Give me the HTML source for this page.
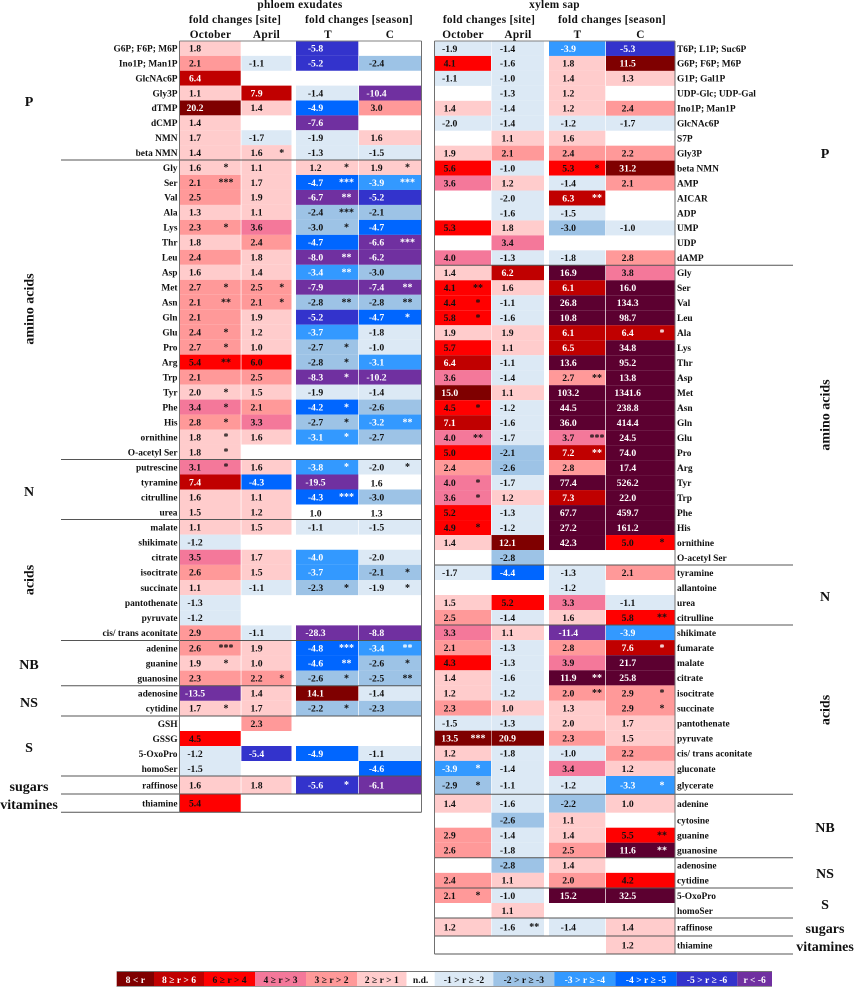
<!DOCTYPE html>
<html lang="en">
<head>
<meta charset="utf-8">
<title>Metabolite fold changes in phloem exudates and xylem sap</title>
<style>
html,body{margin:0;padding:0;background:#fff;}
svg{display:block;font-family:"Liberation Serif",serif;font-weight:bold;filter:blur(0.3px);}
</style>
</head>
<body>
<svg id="chart" width="854" height="987" viewBox="0 0 854 987" xmlns="http://www.w3.org/2000/svg"></svg>
<script>
/* ---------- phloem exudates data ---------- */
const phloemRows = ["G6P; F6P; M6P","Ino1P; Man1P","GlcNAc6P","Gly3P","dTMP","dCMP","NMN","beta NMN","Gly","Ser","Val","Ala","Lys","Thr","Leu","Asp","Met","Asn","Gln","Glu","Pro","Arg","Trp","Tyr","Phe","His","ornithine","O-acetyl Ser","putrescine","tyramine","citrulline","urea","malate","shikimate","citrate","isocitrate","succinate","pantothenate","pyruvate","cis/ trans aconitate","adenine","guanine","guanosine","adenosine","cytidine","GSH","GSSG","5-OxoPro","homoSer","raffinose","thiamine"];
const phloemOct = [1.8,2.1,6.4,1.1,20.2,1.4,1.7,1.4,1.6,2.1,2.5,1.3,2.3,1.8,2.4,1.6,2.7,2.1,2.1,2.4,2.7,5.4,2.1,2.0,3.4,2.8,1.8,1.8,3.1,7.4,1.6,1.5,1.1,-1.2,3.5,2.6,1.1,-1.3,-1.2,2.9,2.6,1.9,2.3,-13.5,1.7,null,4.5,-1.2,-1.5,1.6,5.4];
const phloemApr = [null,-1.1,null,7.9,1.4,null,-1.7,1.6,1.1,1.7,1.9,1.1,3.6,2.4,1.8,1.4,2.5,2.1,1.9,1.2,1.0,6.0,2.5,1.5,2.1,3.3,1.6,null,1.6,-4.3,1.1,1.2,1.5,null,1.7,1.5,-1.1,null,null,-1.1,1.9,1.0,2.2,1.4,1.7,2.3,null,-5.4,null,1.8,null];
const phloemT = [-5.8,-5.2,null,-1.4,-4.9,-7.6,-1.9,-1.3,1.2,-4.7,-6.7,-2.4,-3.0,-4.7,-8.0,-3.4,-7.9,-2.8,-5.2,-3.7,-2.7,-2.8,-8.3,-1.9,-4.2,-2.7,-3.1,null,-3.8,-19.5,-4.3,1.0,-1.1,null,-4.0,-3.7,-2.3,null,null,-28.3,-4.8,-4.6,-2.6,14.1,-2.2,null,null,-4.9,null,-5.6,null];
const phloemC = [null,-2.4,null,-10.4,3.0,null,1.6,-1.5,1.9,-3.9,-5.2,-2.1,-4.7,-6.6,-6.2,-3.0,-7.4,-2.8,-4.7,-1.8,-1.0,-3.1,-10.2,-1.4,-2.6,-3.2,-2.7,null,-2.0,1.6,-3.0,1.3,-1.5,null,-2.0,-2.1,-1.9,null,null,-8.8,-3.4,-2.6,-2.5,-1.4,-2.3,null,null,-1.1,-4.6,-6.1,null];
const phloemOctSig = [0,0,0,0,0,0,0,0,1,3,0,0,1,0,0,0,1,2,0,1,1,2,0,1,1,1,1,1,1,0,0,0,0,0,0,0,0,0,0,0,3,1,0,0,1,0,0,0,0,0,0];
const phloemAprSig = [0,0,0,0,0,0,0,1,0,0,0,0,0,0,0,0,1,1,0,0,0,0,0,0,0,0,0,0,0,0,0,0,0,0,0,0,0,0,0,0,0,0,1,0,0,0,0,0,0,0,0];
const phloemTSig = [0,0,0,0,0,0,0,0,1,3,2,3,1,0,2,2,0,2,0,0,1,1,1,0,1,1,1,0,1,0,3,0,0,0,0,0,1,0,0,0,3,2,1,0,1,0,0,0,0,1,0];
const phloemCSig = [0,0,0,0,0,0,0,0,1,3,0,0,0,3,0,0,2,2,1,0,0,0,0,0,0,2,0,0,1,0,0,0,0,0,0,1,1,0,0,0,2,1,2,0,0,0,0,0,0,0,0];
const phloemNoFill = ["tyramine|C","urea|T","urea|C"];

/* ---------- xylem sap data ---------- */
const xylemRows = ["T6P; L1P; Suc6P","G6P; F6P; M6P","G1P; Gal1P","UDP-Glc; UDP-Gal","Ino1P; Man1P","GlcNAc6P","S7P","Gly3P","beta NMN","AMP","AICAR","ADP","UMP","UDP","dAMP","Gly","Ser","Val","Leu","Ala","Lys","Thr","Asp","Met","Asn","Gln","Glu","Pro","Arg","Tyr","Trp","Phe","His","ornithine","O-acetyl Ser","tyramine","allantoine","urea","citrulline","shikimate","fumarate","malate","citrate","isocitrate","succinate","pantothenate","pyruvate","cis/ trans aconitate","gluconate","glycerate","adenine","cytosine","guanine","guanosine","adenosine","cytidine","5-OxoPro","homoSer","raffinose","thiamine"];
const xylemOct = [-1.9,4.1,-1.1,null,1.4,-2.0,null,1.9,5.6,3.6,null,null,5.3,null,4.0,1.4,4.1,4.4,5.8,1.9,5.7,6.4,3.6,15.0,4.5,7.1,4.0,5.0,2.4,4.0,3.6,5.2,4.9,1.4,null,-1.7,null,1.5,2.5,3.3,2.1,4.3,1.4,1.2,2.3,-1.5,13.5,1.2,-3.9,-2.9,1.4,null,2.9,2.6,null,2.4,2.1,null,1.2,null];
const xylemApr = [-1.4,-1.6,-1.0,-1.3,-1.4,-1.4,1.1,2.1,-1.0,1.2,-2.0,-1.6,1.8,3.4,-1.3,6.2,1.6,-1.1,-1.6,1.9,1.1,-1.1,-1.4,1.1,-1.2,-1.6,-1.7,-2.1,-2.6,-1.7,1.2,-1.3,-1.2,12.1,-2.8,-4.4,null,5.2,-1.4,1.1,-1.3,-1.3,-1.6,-1.2,1.0,-1.3,20.9,-1.8,-1.4,-1.1,-1.6,-2.6,-1.4,-1.8,-2.8,1.1,-1.0,1.1,-1.6,null];
const xylemT = [-3.9,1.8,1.4,1.2,1.2,-1.2,1.6,2.4,5.3,-1.4,6.3,-1.5,-3.0,null,-1.8,16.9,6.1,26.8,10.8,6.1,6.5,13.6,2.7,103.2,44.5,36.0,3.7,7.2,2.8,77.4,7.3,67.7,27.2,42.3,null,-1.3,-1.2,3.3,1.6,-11.4,2.8,3.9,11.9,2.04,1.3,2.0,2.3,-1.0,3.4,-1.2,-2.2,1.1,1.4,2.5,1.4,2.04,15.2,null,-1.4,null];
const xylemC = [-5.3,11.5,1.3,null,2.4,-1.7,null,2.2,31.2,2.1,null,null,-1.0,null,2.8,3.8,16.0,134.3,98.7,6.4,34.8,95.2,13.8,1341.6,238.8,414.4,24.5,74.0,17.4,526.2,22.0,459.7,161.2,5.0,null,2.1,null,-1.1,5.8,-3.9,7.6,21.7,25.8,2.9,2.9,1.7,1.5,2.2,1.2,-3.3,1.0,null,5.5,11.6,null,4.2,32.5,null,1.4,1.2];
const xylemOctSig = [0,0,0,0,0,0,0,0,0,0,0,0,0,0,0,0,2,1,1,0,0,0,0,0,1,0,2,0,0,1,1,0,1,0,0,0,0,0,0,0,0,0,0,0,0,0,3,0,1,1,0,0,0,0,0,0,1,0,0,0];
const xylemAprSig = [0,0,0,0,0,0,0,0,0,0,0,0,0,0,0,0,0,0,0,0,0,0,0,0,0,0,0,0,0,0,0,0,0,0,0,0,0,0,0,0,0,0,0,0,0,0,0,0,0,0,0,0,0,0,0,0,0,0,2,0];
const xylemTSig = [0,0,0,0,0,0,0,0,1,0,2,0,0,0,0,0,0,0,0,0,0,0,2,0,0,0,3,2,0,0,0,0,0,0,0,0,0,0,0,0,0,0,2,2,0,0,0,0,0,0,0,0,0,0,0,0,0,0,0,0];
const xylemCSig = [0,0,0,0,0,0,0,0,0,0,0,0,0,0,0,0,0,0,0,1,0,0,0,0,0,0,0,0,0,0,0,0,0,1,0,0,0,0,2,0,1,0,0,1,1,0,0,0,0,1,0,0,2,2,0,0,0,0,0,0];
const xylemMaroonRows = ["G6P; F6P; M6P","beta NMN"];

/* ---------- legend ---------- */
const legendLabels = ["8 < r","8 ≥ r > 6","6 ≥ r > 4","4 ≥ r > 3","3 ≥ r > 2","2 ≥ r > 1","n.d.","-1 > r ≥ -2","-2 > r ≥ -3","-3 > r ≥ -4","-4 > r ≥ -5","-5 > r ≥ -6","r < -6"];
const legendColors = ["#7f0000","#c00000","#ff0000","#f4789a","#ff9999","#ffcccc","#ffffff","#dce9f5","#9dc3e6","#3399ff","#0066ff","#3333cc","#7030a0"];
const legendInk = ["#fff","#fff","#111","#111","#111","#111","#111","#111","#111","#fff","#fff","#fff","#fff"];
const legendEdges = [116.7,154,204,255,306,357,406.5,434.7,493.3,554.3,615.3,676.7,737.3,772];

/* ---------- layout ---------- */
const NS = "http://www.w3.org/2000/svg";
const svg = document.getElementById("chart");
const WINE = "#5c0030";
const RULE = "#555555";

function binIndex(v){
  if(v>8) return 0;
  if(v>6) return 1;
  if(v>4) return 2;
  if(v>3) return 3;
  if(v>2) return 4;
  if(v>=0) return 5;
  if(v>=-2) return 7;
  if(v>=-3) return 8;
  if(v>=-4) return 9;
  if(v>=-5) return 10;
  if(v>=-6) return 11;
  return 12;
}
function addText(txt,x,y,size,anchor,fill){
  const t=document.createElementNS(NS,"text");
  t.setAttribute("x",x);
  t.setAttribute("y",y);
  t.setAttribute("font-size",size);
  t.setAttribute("text-anchor",anchor);
  t.setAttribute("fill",fill||"#111");
  t.textContent=txt;
  svg.appendChild(t);
  return t;
}
function addRect(x,y,w,h,fill){
  const r=document.createElementNS(NS,"rect");
  r.setAttribute("x",x);
  r.setAttribute("y",y);
  r.setAttribute("width",w);
  r.setAttribute("height",h);
  r.setAttribute("fill",fill);
  svg.appendChild(r);
  return r;
}
function addLine(x1,y1,x2,y2,color,w){
  const l=document.createElementNS(NS,"line");
  l.setAttribute("x1",x1);
  l.setAttribute("y1",y1);
  l.setAttribute("x2",x2);
  l.setAttribute("y2",y2);
  l.setAttribute("stroke",color);
  l.setAttribute("stroke-width",w);
  svg.appendChild(l);
  return l;
}
/* bands: y-range, number of rows */
function rowsFromBands(bands){
  const out=[];
  bands.forEach(b=>{
    const h=(b[1]-b[0])/b[2];
    for(let i=0;i<b[2];i++) out.push({y:b[0]+i*h,h:h});
  });
  return out;
}
function drawPanel(cfg){
  const rows=rowsFromBands(cfg.bands);
  cfg.series.forEach(s=>{
    cfg.rows.forEach((name,i)=>{
      const v=s.values[i];
      if(v===null) return;
      const r=rows[i];
      const cx=s.x0, cw=s.x1-s.x0;
      const cy=r.y+r.h/2;
      const noFill=cfg.noFill.includes(name+"|"+s.key);
      let idx=binIndex(v);
      let fill=legendColors[idx], ink=legendInk[idx];
      if(v>8 && cfg.wineCols.includes(s.key) && !cfg.maroonRows.includes(name)) fill=WINE;
      if(noFill){fill="#ffffff";ink="#111";}
      const cell=addRect(cx,r.y,cw,r.h,fill);
      
      
      const label=addText(v.toFixed(1),s.tx,cy+3.3+(noFill?1.4:0),9.7,"middle",ink);
      
      
      const n=s.sig[i];
      if(n>0){
        const st=addText("*".repeat(n),s.sx,cy+3.2,10,"middle",ink);
        
        
      }
    });
  });
  cfg.rows.forEach((name,i)=>{
    const r=rows[i];
    const lab=addText(name,cfg.labelX,r.y+r.h/2+3.3,9.4,cfg.labelAnchor);
    
    
  });
  cfg.rules.forEach(y=>{
    const l=addLine(cfg.ruleX0,y,cfg.ruleX1,y,RULE,1);
    
    
  });
  const top=addLine(cfg.boxX0,41,cfg.boxX1,41,"#808080",1);
  
  
  const vl=addLine(cfg.boxX0,41,cfg.boxX0,cfg.bottom,"#707070",1);
  
  
  const vr=addLine(cfg.boxX1,41,cfg.boxX1,cfg.bottom,"#707070",1);
  
  
  cfg.groups.forEach(g=>{
    const t=addText(g[0],cfg.groupX,g[1],g[2]||14,"middle");
    
    
    if(g[3]){
      t.setAttribute("transform","rotate(-90 "+cfg.groupX+" "+g[1]+")");
      t.setAttribute("y",g[1]+4.5);
    }
  });
  cfg.titles.forEach(h=>{
    const t=addText(h[0],h[1],h[2],11.3,"middle");
    
    
    t.setAttribute("letter-spacing","0.3");
  });
}

drawPanel({
  rows:phloemRows,
  bands:[[41,160,8],[160,459.5,20],[459.5,519.5,4],[519.5,640.5,8],[640.5,685.7,3],[685.7,716,2],[716,776,4],[776,794,1],[794,812.3,1]],
  rules:[160,459.5,519.5,640.5,685.7,716,776,794,812.3],
  ruleX0:61,ruleX1:421.5,boxX0:179.5,boxX1:421.5,bottom:812.3,
  labelX:177.5,labelAnchor:"end",groupX:29,
  noFill:phloemNoFill,wineCols:[],maroonRows:[],
  series:[
    {key:"Oct",values:phloemOct,sig:phloemOctSig,x0:179.5,x1:240.7,tx:195,sx:226},
    {key:"Apr",values:phloemApr,sig:phloemAprSig,x0:241.4,x1:291.5,tx:256.5,sx:281.7},
    {key:"T",values:phloemT,sig:phloemTSig,x0:296,x1:358.3,tx:315.5,sx:346.5},
    {key:"C",values:phloemC,sig:phloemCSig,x0:359,x1:421,tx:376.5,sx:407.5}
  ],
  groups:[["P",106],["amino acids",309,14,true],["N",496],["acids",580,14,true],["NB",669],["NS",707],["S",752],["sugars",791],["vitamines",809]],
  titles:[["phloem exudates",300,8],["fold changes [site]",235,23],["fold changes [season]",359,23],["October",210.5,38],["April",266.5,38],["T",328,38],["C",390,38]]
});

drawPanel({
  rows:xylemRows,
  bands:[[41,265.3,15],[265.3,565,20],[565,625,4],[625,776,10],[776,794.3,1],[794.3,812.7,1],[812.7,857.7,3],[857.7,888,2],[888,918,2],[918,936,1],[936,954,1]],
  rules:[265.3,565,625,794.3,857.7,888,918,936,954],
  ruleX0:434.5,ruleX1:793,boxX0:434.5,boxX1:675,bottom:954,
  labelX:677,labelAnchor:"start",groupX:825,
  noFill:[],wineCols:["T","C"],maroonRows:xylemMaroonRows,
  series:[
    {key:"Oct",values:xylemOct,sig:xylemOctSig,x0:434.5,x1:491,tx:449.7,sx:478},
    {key:"Apr",values:xylemApr,sig:xylemAprSig,x0:491.5,x1:544,tx:507.5,sx:534.3},
    {key:"T",values:xylemT,sig:xylemTSig,x0:549,x1:605.3,tx:568.3,sx:597},
    {key:"C",values:xylemC,sig:xylemCSig,x0:606,x1:675,tx:627.7,sx:662}
  ],
  groups:[["P",158],["amino acids",415,14,true],["N",601],["acids",710,14,true],["NB",832],["NS",878],["S",909],["sugars",933],["vitamines",951]],
  titles:[["xylem sap",554.5,8],["fold changes [site]",489,23],["fold changes [season]",612,23],["October",463,38],["April",518,38],["T",577.5,38],["C",640.5,38]]
});

/* legend */
legendLabels.forEach((lab,i)=>{
  const x0=legendEdges[i], x1=legendEdges[i+1];
  const sw=addRect(x0,971.7,x1-x0,15,legendColors[i]);
  
  
  const t=addText(lab,(x0+x1)/2,983,9.6,"middle",legendInk[i]);
  
  
});
const legendTop=addLine(116.7,971.5,772,971.5,"#777777",1);


const legendBottom=addLine(116.7,986.5,772,986.5,"#999999",1);


</script>
</body>
</html>
